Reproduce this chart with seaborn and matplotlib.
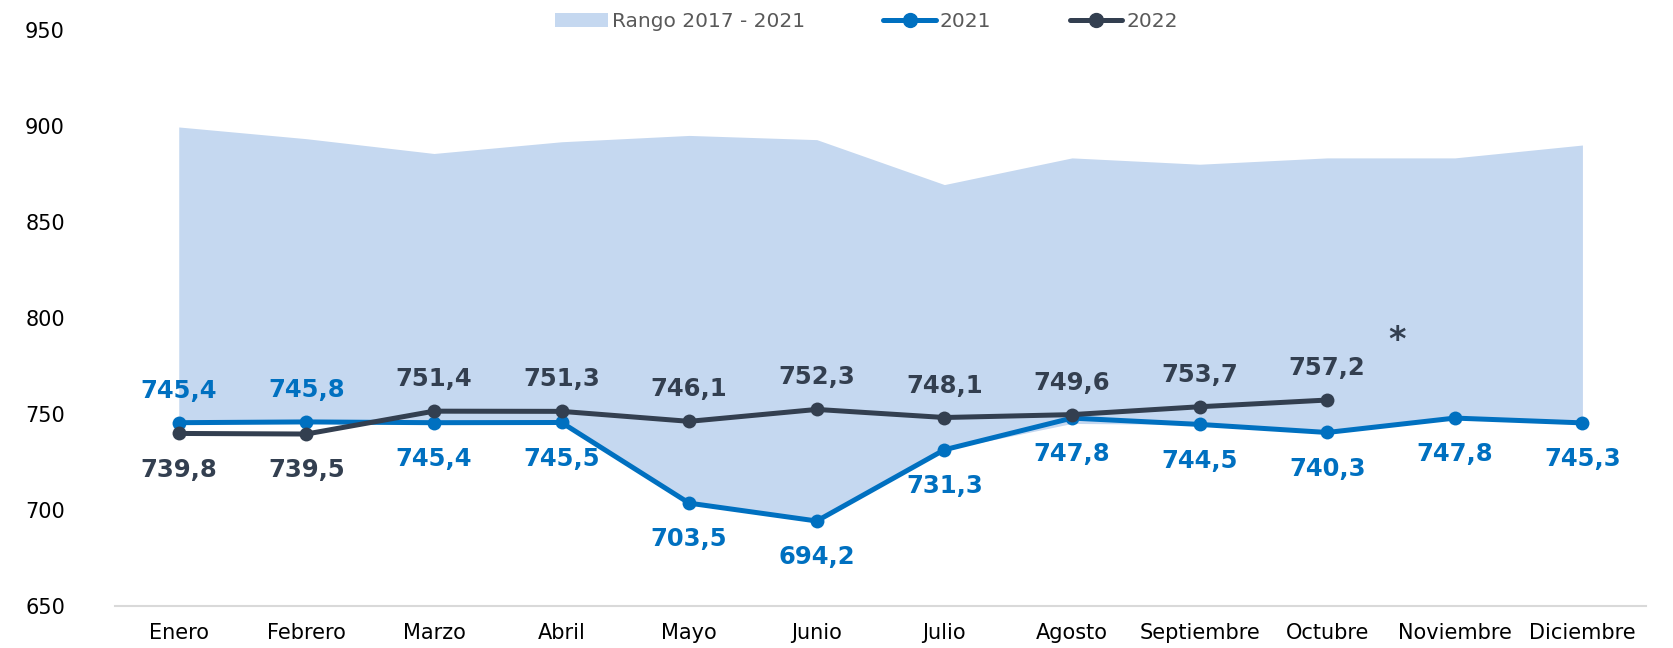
import matplotlib
matplotlib.use("Agg")
import matplotlib.pyplot as plt
import seaborn as sns
import pandas as pd
from matplotlib.patches import Patch
from matplotlib.lines import Line2D

months = ["Enero", "Febrero", "Marzo", "Abril", "Mayo", "Junio", "Julio",
          "Agosto", "Septiembre", "Octubre", "Noviembre", "Diciembre"]
range_high = [899.4, 893.3, 885.6, 891.7, 895.0, 892.8, 869.4, 883.3, 880.0, 883.3, 883.3, 890.0]
range_low = [745.4, 745.8, 745.4, 745.5, 703.5, 694.2, 731.3, 745.0, 744.5, 740.3, 747.8, 745.3]
vals_2021 = [745.4, 745.8, 745.4, 745.5, 703.5, 694.2, 731.3, 747.8, 744.5, 740.3, 747.8, 745.3]
vals_2022 = [739.8, 739.5, 751.4, 751.3, 746.1, 752.3, 748.1, 749.6, 753.7, 757.2]
above_2021 = [True, True] + [False] * 10
above_2022 = [False, False] + [True] * 8

C_BAND = "#C5D8F0"
C_2021 = "#0070C0"
C_2022 = "#333F50"

sns.set_style("white")
plt.rcParams["font.family"] = ["DejaVu Sans"]

fig = plt.figure(figsize=(16.73, 6.48), dpi=100)
ax = fig.add_axes([0.0687, 0.065, 0.9153, 0.889])

x = list(range(len(months)))
ax.fill_between(x, range_low, range_high, color=C_BAND, lw=0, zorder=1)

df21 = pd.DataFrame({"x": x, "v": vals_2021})
df22 = pd.DataFrame({"x": list(range(len(vals_2022))), "v": vals_2022})
sns.lineplot(data=df21, x="x", y="v", ax=ax, color=C_2021, lw=3.6,
             marker="o", markersize=10, markeredgewidth=0, zorder=3)
sns.lineplot(data=df22, x="x", y="v", ax=ax, color=C_2022, lw=3.6,
             marker="o", markersize=10, markeredgewidth=0, zorder=4)

def fmt(v):
    return f"{v:.1f}".replace(".", ",")

for i, v in enumerate(vals_2021):
    off = 23 if above_2021[i] else -26
    ax.annotate(fmt(v), (i, v), xytext=(0, off), textcoords="offset points",
                ha="center", va="center", fontsize=17.5, fontweight="bold", color=C_2021)
for i, v in enumerate(vals_2022):
    off = 23 if above_2022[i] else -26
    ax.annotate(fmt(v), (i, v), xytext=(0, off), textcoords="offset points",
                ha="center", va="center", fontsize=17.5, fontweight="bold", color=C_2022)
ax.annotate("*", (len(vals_2022) - 1, vals_2022[-1]), xytext=(50, 43),
            textcoords="offset points", ha="center", va="center",
            fontsize=24, fontweight="bold", color=C_2022)

ax.set_xlim(-0.5, 11.5)
ax.set_ylim(650, 950)
ax.set_yticks([650, 700, 750, 800, 850, 900, 950])
ax.set_xticks(x)
ax.set_xticklabels(months)
ax.set_xlabel("")
ax.set_ylabel("")
ax.tick_params(axis="both", length=0, labelsize=15, colors="black")
ax.tick_params(axis="x", pad=12)
ax.tick_params(axis="y", pad=36)
for s in ["top", "right", "left"]:
    ax.spines[s].set_visible(False)
ax.spines["bottom"].set_color("#D9D9D9")
ax.spines["bottom"].set_linewidth(1.5)
ax.grid(False)

handles = [Patch(facecolor=C_BAND, edgecolor="none"),
           Line2D([], [], color=C_2021, lw=3.6, marker="o", markersize=10),
           Line2D([], [], color=C_2022, lw=3.6, marker="o", markersize=10)]
leg = fig.legend(handles, ["Rango 2017 - 2021", "2021", "2022"], ncol=3,
                 loc="upper center", bbox_to_anchor=(0.518, 1.01), frameon=False,
                 fontsize=14.5, handlelength=2.6, handletextpad=0.2, columnspacing=3.9)
for t in leg.get_texts():
    t.set_color("#595959")

fig.savefig("out.png", dpi=100)
